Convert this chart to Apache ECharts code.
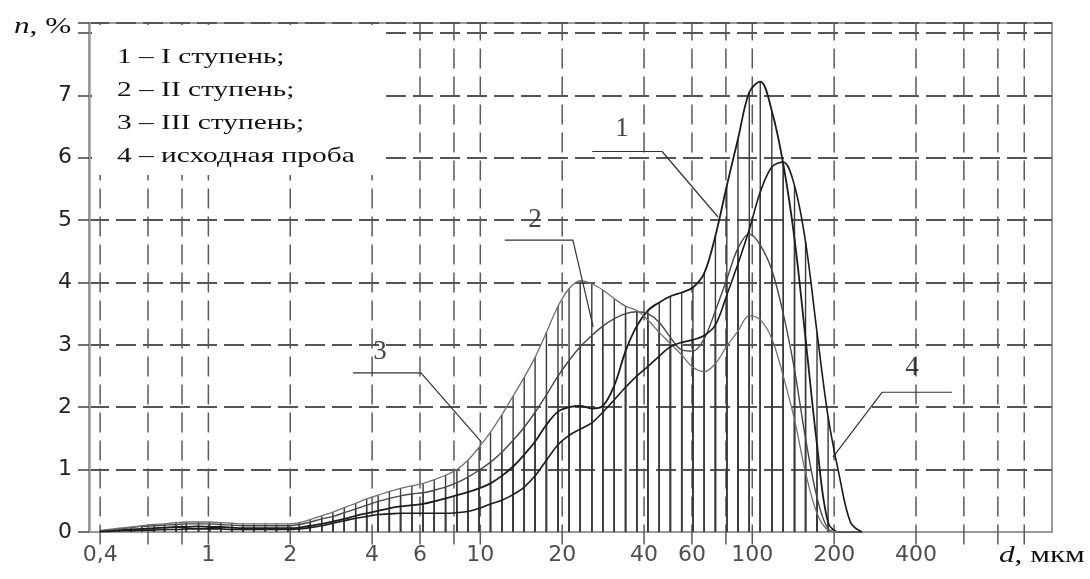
<!DOCTYPE html>
<html>
<head>
<meta charset="utf-8">
<script src="https://cdn.jsdelivr.net/npm/echarts@6/dist/echarts.min.js"></script>
<style>
  html, body { margin: 0; padding: 0; background: #fff; }
  #chart { width: 1090px; height: 579px; }
</style>
</head>
<body>
<div id="chart"></div>
<script>
// particle size, мкм
const sizes = [0.4, 0.43, 0.47, 0.52, 0.57, 0.63, 0.69, 0.76, 0.83, 0.92, 1.01, 1.11, 1.22, 1.34, 1.47, 1.62, 1.78, 1.96,
  2.16, 2.37, 2.61, 2.87, 3.16, 3.48, 3.82, 4.21, 4.63, 5.09, 5.6, 6.16, 6.77, 7.45, 8.2, 9.0, 9.9,
  10.9, 12.0, 13.2, 14.5, 15.9, 17.5, 19.3, 21.2, 23.3, 25.7, 28.2, 31.1, 34.2, 37.6, 41.3, 45.5,
  50, 55, 60.5, 66.6, 73.2, 80.6, 88.6, 97.5, 107, 118, 130, 143, 157, 173, 190, 209, 230, 253];

// n, %
const stage1 = [0.01, 0.02, 0.03, 0.04, 0.05, 0.06, 0.07, 0.08, 0.08, 0.09, 0.08, 0.08, 0.07, 0.06, 0.06, 0.06, 0.06, 0.06,
  0.07, 0.10, 0.13, 0.17, 0.21, 0.26, 0.30, 0.34, 0.38, 0.41, 0.43, 0.45, 0.49, 0.54, 0.59, 0.64, 0.70,
  0.78, 0.90, 1.05, 1.24, 1.45, 1.72, 1.93, 2.00, 2.02, 1.98, 2.02, 2.35, 2.90, 3.30, 3.55, 3.68,
  3.78, 3.84, 3.92, 4.15, 4.75, 5.55, 6.30, 7.05, 7.22, 6.75, 5.90, 4.70, 3.10, 1.40, 0.15, 0, 0, 0];
const stage2 = [0.02, 0.03, 0.05, 0.07, 0.09, 0.10, 0.11, 0.12, 0.13, 0.13, 0.13, 0.12, 0.11, 0.10, 0.10, 0.10, 0.10, 0.10,
  0.12, 0.16, 0.21, 0.25, 0.31, 0.37, 0.43, 0.49, 0.54, 0.58, 0.61, 0.63, 0.67, 0.72, 0.79, 0.88, 0.99,
  1.12, 1.28, 1.47, 1.68, 1.92, 2.20, 2.50, 2.75, 2.97, 3.15, 3.30, 3.42, 3.50, 3.53, 3.50, 3.36,
  3.12, 2.92, 2.90, 3.10, 3.55, 4.05, 4.55, 4.78, 4.60, 4.20, 3.50, 2.60, 1.50, 0.55, 0.05, 0, 0, 0];
const stage3 = [0.02, 0.04, 0.06, 0.08, 0.10, 0.12, 0.13, 0.15, 0.16, 0.16, 0.16, 0.15, 0.14, 0.13, 0.13, 0.13, 0.13, 0.13,
  0.15, 0.20, 0.26, 0.32, 0.39, 0.46, 0.53, 0.59, 0.65, 0.70, 0.74, 0.78, 0.84, 0.91, 1.00, 1.15, 1.36,
  1.60, 1.88, 2.18, 2.48, 2.80, 3.20, 3.62, 3.90, 4.03, 3.98, 3.88, 3.74, 3.62, 3.55, 3.40, 3.20,
  3.02, 2.84, 2.64, 2.57, 2.70, 2.98, 3.22, 3.47, 3.40, 3.10, 2.50, 1.80, 0.95, 0.30, 0.03, 0, 0, 0];
const initial = [0.01, 0.01, 0.02, 0.02, 0.03, 0.03, 0.04, 0.04, 0.05, 0.05, 0.05, 0.05, 0.04, 0.04, 0.04, 0.04, 0.04, 0.04,
  0.05, 0.07, 0.10, 0.14, 0.18, 0.22, 0.25, 0.28, 0.29, 0.30, 0.30, 0.30, 0.30, 0.30, 0.31, 0.33, 0.38,
  0.45, 0.51, 0.60, 0.72, 0.90, 1.15, 1.40, 1.55, 1.65, 1.75, 1.92, 2.12, 2.32, 2.50, 2.65, 2.82,
  2.97, 3.04, 3.08, 3.15, 3.32, 3.80, 4.30, 4.85, 5.45, 5.85, 5.93, 5.55, 4.65, 3.20, 1.85, 0.90, 0.15, 0];

const gridSizes = [0.4, 0.6, 0.8, 1, 2, 4, 6, 8, 10, 20, 40, 60, 80, 100, 200, 400, 600, 800, 1000];
const tickSizes = [0.4, 1, 2, 4, 6, 10, 20, 40, 60, 100, 200, 400];
const tickLabels = ['0,4', '1', '2', '4', '6', '10', '20', '40', '60', '100', '200', '400'];
const legendLines = ['1 – I ступень;', '2 – II ступень;', '3 – III ступень;', '4 – исходная проба'];

// callouts: number position and leader path, in axis units
const callouts = [
  { label: '1', at: [33.2, 6.47], path: [[25.8, 6.1], [46.6, 6.1], [74.8, 5.05]] },
  { label: '2', at: [15.9, 5.0], path: [[12.3, 4.68], [21.9, 4.68], [26, 3.29]] },
  { label: '3', at: [4.28, 2.88], path: [[3.4, 2.55], [6.05, 2.55], [10.1, 1.44]] },
  { label: '4', at: [387, 2.63], path: [[542, 2.24], [300, 2.24], [198, 1.2]] }
];

const xMin = 0.364, xMax = 1265, yMax = 8.16;
const hatchLimit = 190;

const curves = [
  { name: '1', data: stage1, color: '#1c1c1c', width: 1.8 },
  { name: '2', data: stage2, color: '#474747', width: 1.4 },
  { name: '3', data: stage3, color: '#707070', width: 1.3 },
  { name: '4', data: initial, color: '#1c1c1c', width: 1.6 }
];

const chart = echarts.init(document.getElementById('chart'));

function pairs(vals) {
  return sizes.map((d, i) => [d, vals[i]]);
}

function hatchItem(params, api) {
  const p0 = api.coord([api.value(0), 0]);
  const p1 = api.coord([api.value(0), api.value(1)]);
  return {
    type: 'line',
    shape: { x1: p0[0], y1: p0[1], x2: p1[0], y2: p1[1] },
    style: { stroke: '#3a3a3a', lineWidth: 1.4 }
  };
}

function gridItem(params, api) {
  const p0 = api.coord([api.value(0), -0.2]);
  const p1 = api.coord([api.value(0), yMax]);
  return {
    type: 'line',
    shape: { x1: p0[0], y1: p0[1], x2: p1[0], y2: p1[1] },
    style: { stroke: '#5a5a5a', lineWidth: 1.5, lineDash: [20, 8] }
  };
}

const series = [];

series.push({
  type: 'custom',
  silent: true,
  clip: false,
  z: 1,
  renderItem: gridItem,
  data: gridSizes.map(d => [d, 0])
});

curves.forEach(c => {
  series.push({
    type: 'custom',
    silent: true,
    z: 2,
    renderItem: hatchItem,
    data: pairs(c.data).filter(p => p[0] <= hatchLimit)
  });
});

curves.forEach(c => {
  series.push({
    name: c.name,
    type: 'line',
    data: pairs(c.data),
    smooth: 0.35,
    showSymbol: false,
    silent: true,
    z: 3,
    lineStyle: { color: c.color, width: c.width }
  });
});

callouts.forEach(c => {
  series.push({
    type: 'line',
    data: c.path,
    showSymbol: false,
    silent: true,
    z: 4,
    lineStyle: { color: '#333', width: 1.2 }
  });
});

series.push({
  type: 'scatter',
  silent: true,
  symbolSize: 0,
  z: 5,
  data: callouts.map(c => c.at),
  label: {
    show: true,
    position: 'inside',
    formatter: p => callouts[p.dataIndex].label,
    fontFamily: 'Liberation Serif',
    fontSize: 27,
    color: '#111'
  }
});

// x tick labels (only at the selected sizes)
series.push({
  type: 'scatter',
  silent: true,
  clip: false,
  symbolSize: 0,
  data: tickSizes.map(d => [d, 0]),
  label: {
    show: true,
    position: 'bottom',
    distance: 12,
    formatter: p => tickLabels[p.dataIndex],
    fontFamily: 'DejaVu Sans',
    fontSize: 22,
    color: '#222'
  }
});

const legendText = legendLines.map((t, i) => ({
  type: 'text',
  x: 117,
  y: 57 + i * 33.3,
  scaleX: 1.4,
  z: 11,
  style: {
    text: t,
    font: '21px "Liberation Serif"',
    fill: '#111',
    textVerticalAlign: 'middle'
  }
}));

const option = {
  animation: false,
  backgroundColor: '#fff',
  grid: {
    left: 89, right: 38, top: 23, bottom: 47,
    show: true, borderColor: '#9a9a9a', borderWidth: 2
  },
  xAxis: {
    type: 'log',
    logBase: 10,
    min: xMin,
    max: xMax,
    axisLine: { show: true, lineStyle: { color: '#999', width: 2 } },
    axisTick: { show: false },
    axisLabel: { show: false },
    splitLine: { show: false },
    minorTick: { show: false },
    minorSplitLine: { show: false }
  },
  yAxis: {
    type: 'value',
    min: 0,
    max: yMax,
    interval: 1,
    axisLine: { show: true, lineStyle: { color: '#999', width: 2.5 } },
    axisTick: { show: true, length: 11, lineStyle: { color: '#444', width: 1.5 } },
    axisLabel: {
      margin: 17,
      fontFamily: 'DejaVu Sans',
      fontSize: 22,
      color: '#222',
      formatter: v => (Number.isInteger(v) && v <= 7) ? String(v) : ''
    },
    splitLine: { show: true, lineStyle: { color: '#555', width: 1.8, type: [20, 7] } }
  },
  graphic: [
    {
      type: 'rect',
      shape: { x: 92, y: 25, width: 293, height: 150 },
      style: { fill: '#fff' },
      z: 10
    },
    ...legendText,
    {
      type: 'text',
      x: 14,
      y: 27,
      scaleX: 1.3,
      z: 11,
      style: {
        text: '{i|n}, %',
        font: '24px "Liberation Serif"',
        fill: '#111',
        textVerticalAlign: 'middle',
        rich: { i: { fontStyle: 'italic', fontFamily: 'Liberation Serif', fontSize: 24 } }
      }
    },
    {
      type: 'text',
      x: 999,
      y: 556,
      scaleX: 1.3,
      z: 11,
      style: {
        text: '{i|d}, мкм',
        font: '24px "Liberation Serif"',
        fill: '#111',
        textVerticalAlign: 'middle',
        rich: { i: { fontStyle: 'italic', fontFamily: 'Liberation Serif', fontSize: 24 } }
      }
    }
  ],
  series: series
};

chart.setOption(option);
</script>
</body>
</html>
